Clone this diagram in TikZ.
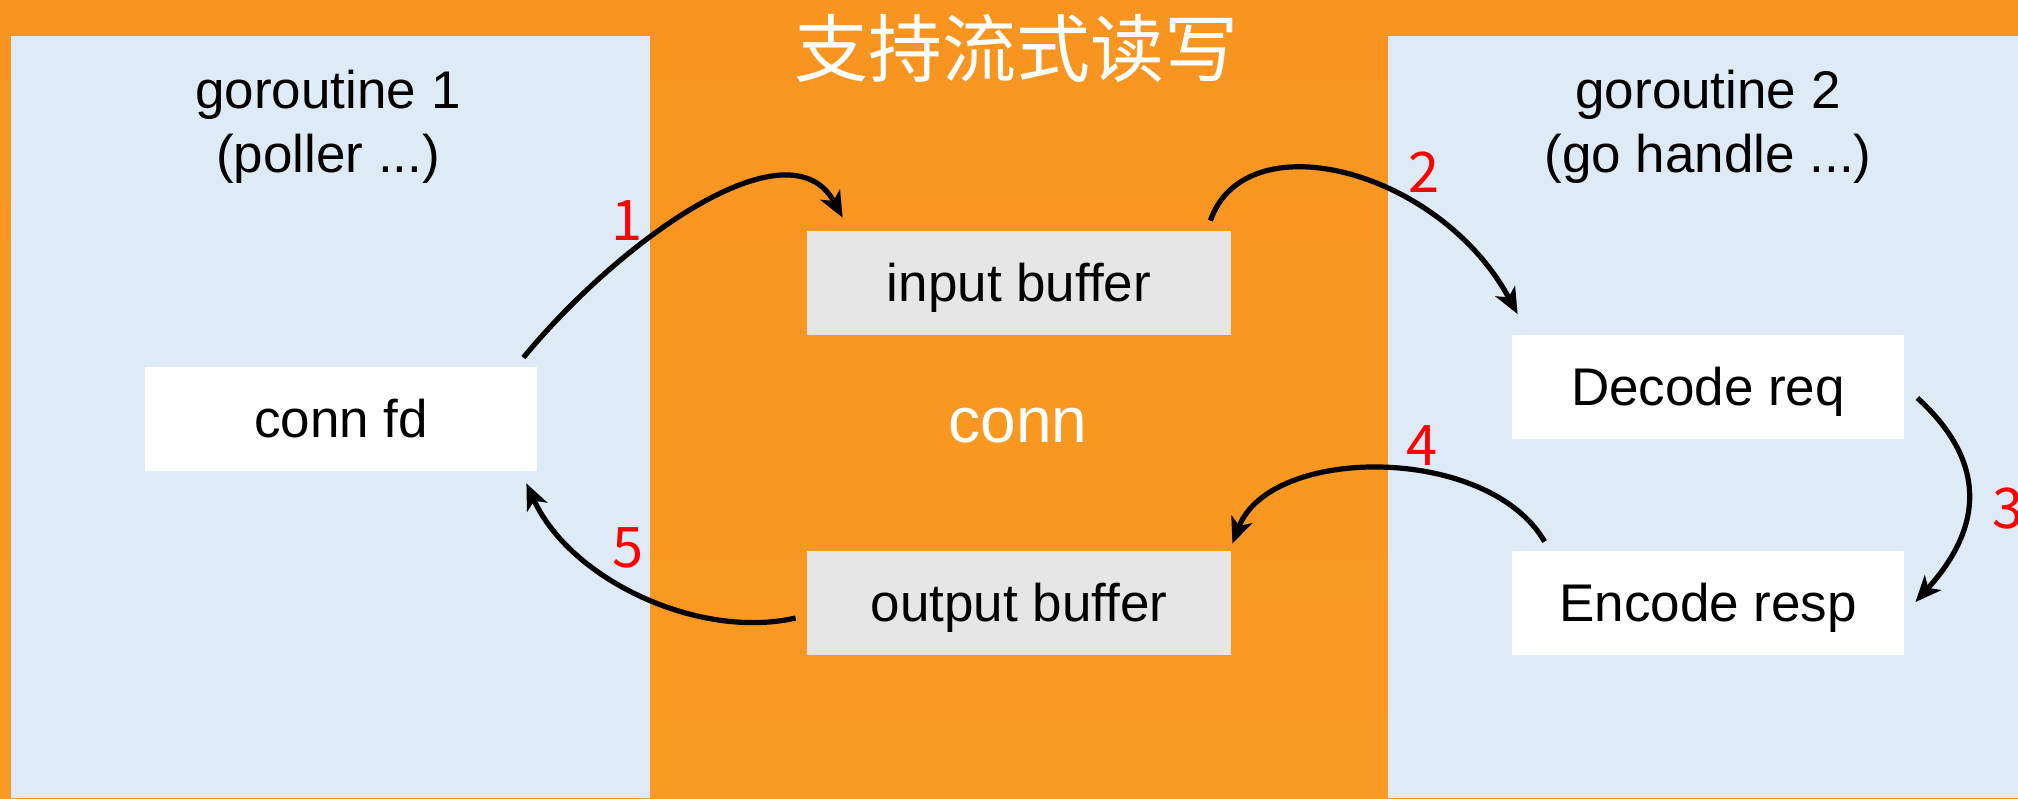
\documentclass[tikz,border=0pt]{standalone}
\usepackage{fontspec}
\setmainfont{Liberation Sans}
\newfontfamily\cjk{Noto Sans CJK SC}
\usetikzlibrary{arrows.meta}

\definecolor{bgorange}{RGB}{247,149,32}
\definecolor{bgorangelight}{RGB}{249,154,34}
\definecolor{lanebg}{RGB}{222,234,246}
\definecolor{bufgray}{RGB}{230,230,230}
\definecolor{steplabel}{RGB}{255,0,0}

\tikzset{
  lane/.style={fill=lanebg, draw=none},
  boxbase/.style={draw=none, inner sep=0pt, minimum height=52pt,
    text height=24pt, text depth=5.5pt, font=\fontsize{26.5}{32}\selectfont},
  workbox/.style={boxbase, fill=white, minimum width=196pt},
  bufbox/.style={boxbase, fill=bufgray, minimum width=212pt},
  lanetitle/.style={anchor=base, inner sep=0pt, font=\fontsize{26.5}{32}\selectfont},
  stepnum/.style={anchor=base, inner sep=0pt, text=steplabel,
    font=\cjk\fontsize{28}{32}\selectfont},
  flow/.style={line width=2.6pt, -{Stealth[length=13pt,width=11pt,inset=3.5pt]}},
}

\begin{document}
\begin{tikzpicture}[x=0.5pt, y=-0.5pt]
  \useasboundingbox (0,0) rectangle (2018,798);

  % orange canvas and the two goroutine lanes
  \shade[top color=bgorange, bottom color=bgorangelight] (0,0) rectangle (2018,798);
  \fill[lane] (11,36) rectangle (650,798);
  \fill[lane] (1388,36) rectangle (2018,798);

  % headings
  \node[anchor=center, inner sep=0pt, text=white, font=\cjk\fontsize{37}{40}\selectfont]
    (title) at (1016,49) {支持流式读写};
  \node[lanetitle] (g1a) at (328,108) {goroutine 1};
  \node[lanetitle] (g1b) at (328,172) {(poller ...)};
  \node[lanetitle] (g2a) at (1708,108) {goroutine 2};
  \node[lanetitle] (g2b) at (1708,172) {(go handle ...)};
  \node[anchor=base, inner sep=0pt, text=white, font=\fontsize{32}{36}\selectfont]
    (conn) at (1018,442) {conn};

  % boxes
  \node[workbox] (fd) at (341,419) {conn fd};
  \node[bufbox] (inbuf) at (1019,283) {input buffer};
  \node[bufbox] (outbuf) at (1019,603) {output buffer};
  \node[workbox] (dec) at (1708,386.5) {Decode req};
  \node[workbox] (enc) at (1708,603) {Encode resp};

  % data flow
  \draw[flow] ([shift={(-14,-9)}]fd.north east)
    .. controls +(97,-118) and +(-53,-98) .. ([shift={(36,-13)}]inbuf.north west);
  \draw[flow] ([shift={(-21,-10)}]inbuf.north east)
    .. controls +(35,-101) and +(-78,-145) .. ([shift={(6,-20)}]dec.north west);
  \draw[flow] ([shift={(13,11.5)}]dec.east)
    .. controls +(68,62) and +(70,-77) .. ([shift={(11,-1)}]enc.east);
  \draw[flow] ([shift={(33,-9)}]enc.north west)
    .. controls +(-56,-97) and +(38,-99) .. ([shift={(1,-7)}]outbuf.north east);
  \draw[flow] ([shift={(-11,15)}]outbuf.west)
    .. controls +(-96,22) and +(44,97) .. ([shift={(-11,12)}]fd.south east);

  % step numbers
  \node[stepnum] (n1) at (627,240) {1};
  \node[stepnum] (n2) at (1424,192) {2};
  \node[stepnum] (n3) at (2008,528) {3};
  \node[stepnum] (n4) at (1422,465) {4};
  \node[stepnum] (n5) at (628,567) {5};
\end{tikzpicture}
\end{document}
